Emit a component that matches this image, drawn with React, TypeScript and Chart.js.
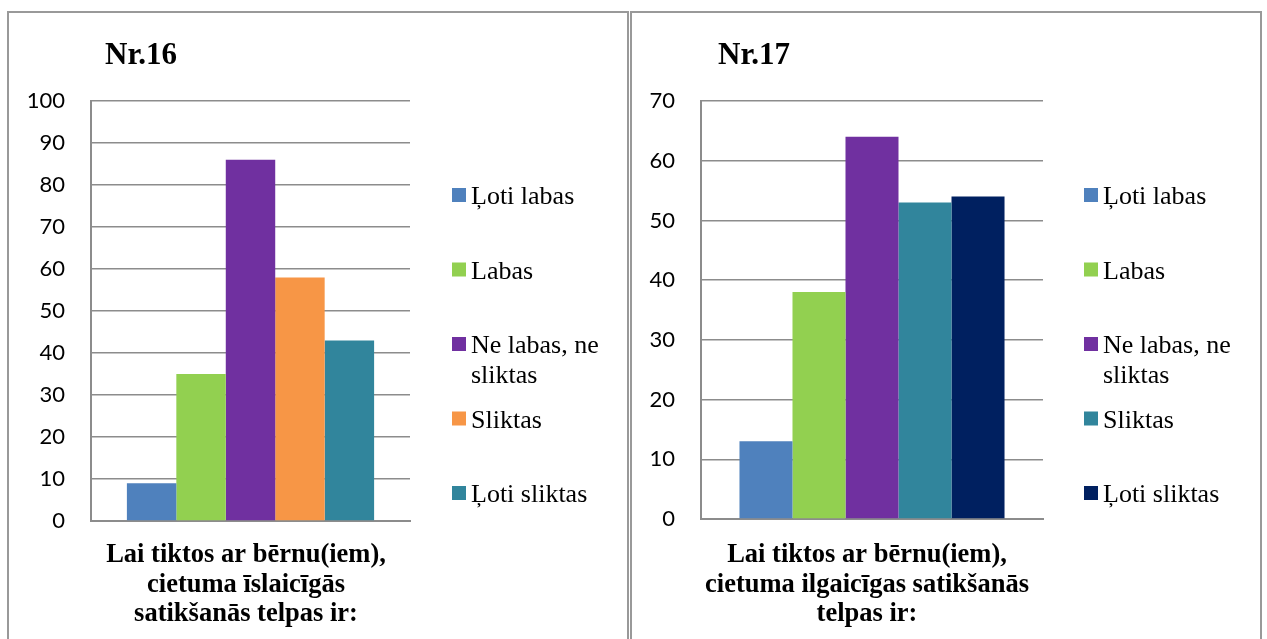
import React, { useEffect, useRef } from "react";
import { Chart, registerables } from "chart.js";

Chart.register(...registerables);

// ---------- data ----------
const categories = [""];

const seriesNames16 = ["Ļoti labas", "Labas", "Ne labas, ne sliktas", "Sliktas", "Ļoti sliktas"];
const values16 = [9, 35, 86, 58, 43];
const colors16 = ["#4F81BD", "#92D050", "#7030A0", "#F79646", "#31859C"];
const yMax16 = 100;
const yStep16 = 10;
const heading16 = "Nr.16";
const xTitle16 = ["Lai tiktos ar bērnu(iem),", "cietuma īslaicīgās", "satikšanās telpas ir:"];

const seriesNames17 = ["Ļoti labas", "Labas", "Ne labas, ne sliktas", "Sliktas", "Ļoti sliktas"];
const values17 = [13, 38, 64, 53, 54];
const colors17 = ["#4F81BD", "#92D050", "#7030A0", "#31859C", "#002060"];
const yMax17 = 70;
const yStep17 = 10;
const heading17 = "Nr.17";
const xTitle17 = ["Lai tiktos ar bērnu(iem),", "cietuma ilgaicīgas satikšanās", "telpas ir:"];

// ---------- styling ----------
const GRID = "#8c8c8c";
const SERIF = '"Liberation Serif", "Times New Roman", serif';
const SANS = 'Lato, "Open Sans", sans-serif';

type PanelProps = {
  names: string[];
  values: number[];
  colors: string[];
  yMax: number;
  yStep: number;
  heading: string;
  xTitle: string[];
  width: number;
  height: number;
  area: { left: number; right: number; top: number; bottom: number };
  headingX: number;
  legendX: number;
  xTitleCenter: number;
};

function wrap(ctx: CanvasRenderingContext2D, text: string, maxW: number): string[] {
  const words = text.split(" ");
  const lines: string[] = [];
  let cur = "";
  for (const w of words) {
    const t = cur ? cur + " " + w : w;
    if (ctx.measureText(t).width > maxW && cur) {
      lines.push(cur);
      cur = w;
    } else cur = t;
  }
  if (cur) lines.push(cur);
  return lines;
}

function Panel(p: PanelProps) {
  const ref = useRef<HTMLCanvasElement | null>(null);
  useEffect(() => {
    if (!ref.current) return;
    const decor = {
      id: "decor",
      afterDraw(chart: any) {
        const ctx: CanvasRenderingContext2D = chart.ctx;
        ctx.save();
        // heading
        ctx.fillStyle = "#000";
        ctx.font = `bold 31px ${SERIF}`;
        ctx.textAlign = "left";
        ctx.textBaseline = "alphabetic";
        ctx.fillText(p.heading, p.headingX, 51);
        // legend
        ctx.font = `26px ${SERIF}`;
        chart.data.datasets.forEach((ds: any, i: number) => {
          const cy = 182 + i * 74.5;
          ctx.fillStyle = ds.backgroundColor;
          ctx.fillRect(p.legendX, cy - 7, 14, 14);
          ctx.fillStyle = "#000";
          const lines = wrap(ctx, ds.label, 150);
          lines.forEach((ln, j) => {
            ctx.fillText(ln, p.legendX + 19, cy + 9 + j * 30);
          });
        });
        // x axis title
        ctx.font = `bold 26.5px ${SERIF}`;
        ctx.textAlign = "center";
        p.xTitle.forEach((ln, j) => {
          ctx.fillText(ln, p.xTitleCenter, 549 + j * 29.5);
        });
        ctx.restore();
      },
    };
    const chart = new Chart(ref.current, {
      type: "bar",
      data: {
        labels: categories,
        datasets: p.names.map((n, i) => ({
          label: n,
          data: [p.values[i]],
          backgroundColor: p.colors[i],
          borderWidth: 0,
          categoryPercentage: 0.775,
          barPercentage: 1,
        })),
      },
      options: {
        animation: false,
        responsive: false,
        layout: {
          padding: { left: 0, top: p.area.top, right: p.width - p.area.right, bottom: 0 },
        },
        plugins: {
          legend: { display: false },
          tooltip: { enabled: false },
          title: { display: false },
        },
        scales: {
          x: {
            grid: { display: false },
            ticks: { display: false },
            border: { display: true, color: GRID, width: 2 },
            afterFit: (s: any) => {
              s.height = p.height - p.area.bottom;
            },
          },
          y: {
            min: 0,
            max: p.yMax,
            ticks: {
              stepSize: p.yStep,
              padding: 26,
              color: "#000",
              font: { family: SANS, size: 22 },
            },
            grid: { color: GRID, lineWidth: 1.5, drawTicks: false },
            border: { display: true, color: GRID, width: 2 },
            afterFit: (s: any) => {
              s.width = p.area.left;
            },
          },
        },
      },
      plugins: [decor],
    } as any);
    return () => chart.destroy();
  }, []);
  return (
    <canvas
      ref={ref}
      width={p.width}
      height={p.height}
      style={{ width: p.width, height: p.height, display: "block" }}
    />
  );
}

export default function App() {
  const border = "2px solid #999";
  return (
    <div style={{ position: "fixed", left: 0, top: 0, width: 1267, height: 639, background: "#fff", overflow: "hidden" }}>
      <div
        style={{
          position: "absolute",
          left: 7,
          top: 11,
          width: 618,
          height: 660,
          borderLeft: border,
          borderTop: border,
          borderRight: border,
        }}
      >
        <Panel
          names={seriesNames16}
          values={values16}
          colors={colors16}
          yMax={yMax16}
          yStep={yStep16}
          heading={heading16}
          xTitle={xTitle16}
          width={618}
          height={626}
          area={{ left: 82, right: 401, top: 88, bottom: 508 }}
          headingX={96}
          legendX={443}
          xTitleCenter={237}
        />
      </div>
      <div
        style={{
          position: "absolute",
          left: 630,
          top: 11,
          width: 628,
          height: 660,
          borderLeft: border,
          borderTop: border,
          borderRight: border,
        }}
      >
        <Panel
          names={seriesNames17}
          values={values17}
          colors={colors17}
          yMax={yMax17}
          yStep={yStep17}
          heading={heading17}
          xTitle={xTitle17}
          width={627}
          height={626}
          area={{ left: 69, right: 411, top: 88, bottom: 506 }}
          headingX={86}
          legendX={452}
          xTitleCenter={235}
        />
      </div>
    </div>
  );
}
